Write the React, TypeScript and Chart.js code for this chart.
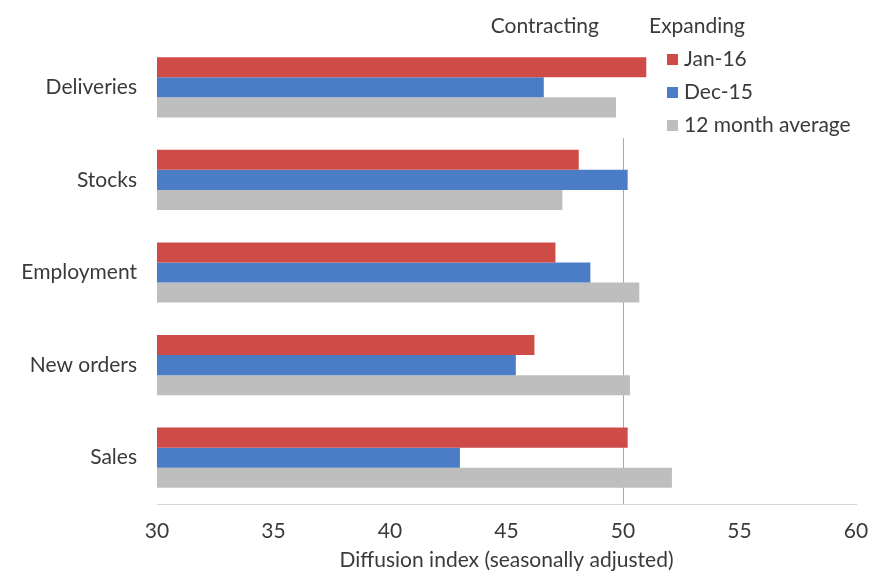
import React, { useEffect, useRef } from "react";
import { Chart, registerables } from "chart.js";

Chart.register(...registerables);

const categories = ["Deliveries", "Stocks", "Employment", "New orders", "Sales"];
const seriesNames = ["Jan-16", "Dec-15", "12 month average"];
const jan16 = [51.0, 48.1, 47.1, 46.2, 50.2];
const dec15 = [46.6, 50.2, 48.6, 45.4, 43.0];
const avg12 = [49.7, 47.4, 50.7, 50.3, 52.1];
const colors = ["#CE4B47", "#4A7DC6", "#BEBEBE"];
const xTicks = [30, 35, 40, 45, 50, 55, 60];
const divider = 50;
const leftLabel = "Contracting";
const rightLabel = "Expanding";
const axisTitle = "Diffusion index (seasonally adjusted)";

const FONT = 'Lato, "Open Sans", "DejaVu Sans", sans-serif';
const TEXT = "#3a3a3a";
const FS = 21;

const overlay = {
  id: "overlay",
  beforeDatasetsDraw(chart: any) {
    const { ctx, chartArea, scales } = chart;
    const x = Math.round(scales.x.getPixelForValue(divider)) + 0.5;
    const y0 = scales.y.getPixelForValue(0.55);
    ctx.save();
    ctx.strokeStyle = "#a8a8a8";
    ctx.lineWidth = 1;
    ctx.beginPath();
    ctx.moveTo(x, y0);
    ctx.lineTo(x, chartArea.bottom);
    ctx.stroke();
    ctx.restore();
  },
  afterDraw(chart: any) {
    const { ctx, scales } = chart;
    const x = scales.x.getPixelForValue(divider);
    ctx.save();
    ctx.font = `${FS}px ${FONT}`;
    ctx.fillStyle = TEXT;
    ctx.textBaseline = "middle";
    ctx.textAlign = "right";
    ctx.fillText(leftLabel, x - 24, 18);
    ctx.textAlign = "left";
    ctx.fillText(rightLabel, x + 26, 18);
    const ds = chart.data.datasets;
    ds.forEach((d: any, i: number) => {
      const cy = 51 + i * 33;
      ctx.fillStyle = d.backgroundColor;
      ctx.fillRect(x + 44, cy - 5, 11, 11);
      ctx.fillStyle = TEXT;
      ctx.textAlign = "left";
      ctx.fillText(d.label, x + 61, cy);
    });
    ctx.restore();
  },
};

export default function App() {
  const ref = useRef<HTMLCanvasElement | null>(null);
  useEffect(() => {
    if (!ref.current) return;
    const chart = new Chart(ref.current, {
      type: "bar",
      data: {
        labels: categories,
        datasets: [jan16, dec15, avg12].map((d, i) => ({
          label: seriesNames[i],
          data: d,
          backgroundColor: colors[i],
          borderWidth: 0,
          barPercentage: 1,
          categoryPercentage: 0.65,
        })),
      },
      options: {
        indexAxis: "y",
        animation: false,
        responsive: false,
        maintainAspectRatio: false,
        layout: { padding: { top: 33, right: 17, left: 0, bottom: 0 } },
        plugins: { legend: { display: false }, tooltip: { enabled: false } },
        scales: {
          x: {
            type: "linear",
            min: 30,
            max: 60,
            afterBuildTicks: (s: any) => {
              s.ticks = xTicks.map((v) => ({ value: v }));
            },
            afterFit: (s: any) => {
              s.height = 74;
              s.paddingLeft = 0;
              s.paddingRight = 0;
            },
            grid: { display: false, drawTicks: false },
            border: { display: true, color: "#d6d6d6" },
            ticks: { padding: 15, color: TEXT, font: { size: FS, family: FONT } },
            title: {
              display: true,
              text: axisTitle,
              color: TEXT,
              font: { size: FS, family: FONT },
              padding: { top: 0, bottom: 5 },
            },
          },
          y: {
            afterFit: (s: any) => {
              s.width = 149;
            },
            grid: { display: false, drawTicks: false },
            border: { display: false },
            ticks: { padding: 20, color: TEXT, font: { size: FS, family: FONT } },
          },
        },
      },
      plugins: [overlay],
    });
    return () => chart.destroy();
  }, []);
  return (
    <div style={{ width: 865, height: 570 }}>
      <canvas ref={ref} width={865} height={570} style={{ width: 865, height: 570 }} />
    </div>
  );
}
